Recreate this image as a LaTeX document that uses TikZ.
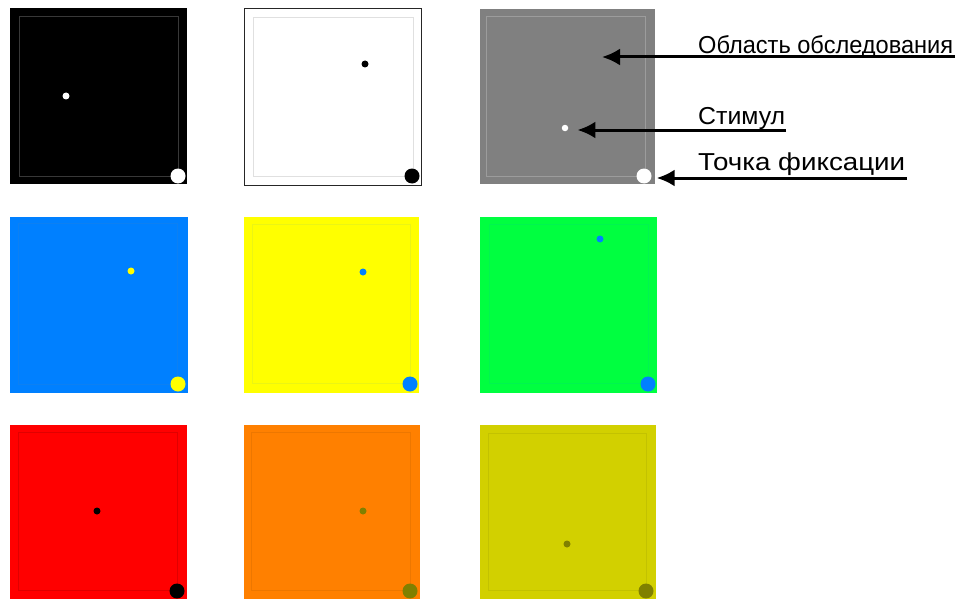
\documentclass[tikz,border=0pt]{standalone}
\usepackage{fontspec}
\setmainfont{Liberation Sans}
\usetikzlibrary{arrows.meta}
\definecolor{cblue}{RGB}{0,128,255}
\definecolor{cyel}{RGB}{255,255,0}
\definecolor{cgreen}{RGB}{0,255,64}
\definecolor{cred}{RGB}{255,0,0}
\definecolor{corange}{RGB}{255,128,0}
\definecolor{colive}{RGB}{210,208,0}
\definecolor{cdot}{RGB}{128,128,0}
\definecolor{cgray}{RGB}{128,128,128}
\newcommand{\lbltext}[2]{\resizebox{#1}{\height}{#2}}
\tikzset{
  inner/.style={line width=0.8pt},
  stim/.style={circle,inner sep=0pt,minimum size=7pt,draw=none},
  fix/.style={circle,inner sep=0pt,minimum size=15pt,draw=none},
  lbl/.style={font=\fontsize{24.5}{28}\selectfont,anchor=base west,inner sep=0pt},
  pointer/.style={line width=3pt,-{Latex[length=18pt,width=17pt]}}
}
\begin{document}
\begin{tikzpicture}[x=1pt,y=-1pt]
\useasboundingbox (0,0) rectangle (973,599);
% row 1
\fill[black] (10,8) rectangle (187,184);
\draw[inner,black!78!white] (19,16) rectangle (178,176);
\node[stim,fill=white] (s1) at (66,96) {};
\node[fix,fill=white] (f1) at (178,176) {};

\fill[white] (244,9) rectangle (421,185);
\draw[line width=1pt,black!85!white] (244,9) rectangle (421,185);
\draw[inner,black!12!white] (253,17) rectangle (413,176);
\node[stim,fill=black] (s2) at (365,64) {};
\node[fix,fill=black] (f2) at (412,176) {};

\fill[cgray] (480,9) rectangle (655,184);
\draw[inner,white!22!cgray] (486,16) rectangle (645,176);
\node[stim,fill=white,minimum size=6.5pt] (s3) at (565,128) {};
\node[fix,fill=white] (f3) at (644,176) {};

% row 2
\fill[cblue] (10,217) rectangle (188,393);
\draw[inner,cblue!90!gray] (18,223) rectangle (177,384);
\node[stim,fill=cyel] (s4) at (131,271) {};
\node[fix,fill=cyel] (f4) at (178,384) {};

\fill[cyel] (244,217) rectangle (419,393);
\draw[inner,cyel!92!cblue] (252,224) rectangle (410,383);
\node[stim,fill=cblue] (s5) at (363,272) {};
\node[fix,fill=cblue] (f5) at (410,384) {};

\fill[cgreen] (480,217) rectangle (657,393);
\draw[inner,cgreen!92!cblue] (489,224) rectangle (648,383);
\node[stim,fill=cblue] (s6) at (600,239) {};
\node[fix,fill=cblue] (f6) at (648,384) {};

% row 3
\fill[cred] (10,425) rectangle (187,599);
\draw[inner,cred!88!black] (18,432) rectangle (177,590);
\node[stim,fill=black] (s7) at (97,511) {};
\node[fix,fill=black] (f7) at (177,591) {};

\fill[corange] (244,425) rectangle (420,599);
\draw[inner,corange!93!black] (251,432) rectangle (410,590);
\node[stim,fill=cdot] (s8) at (363,511) {};
\node[fix,fill=cdot] (f8) at (410,591) {};

\fill[colive] (480,425) rectangle (656,599);
\draw[inner,colive!93!black] (488,433) rectangle (646,590);
\node[stim,fill=cdot] (s9) at (567,544) {};
\node[fix,fill=cdot] (f9) at (646,591) {};

% labels and pointers
\node[lbl] (l1) at (698,54) {\lbltext{255pt}{Область обследования}};
\node[lbl] (l2) at (698,124) {\lbltext{87pt}{Стимул}};
\node[lbl] (l3) at (698,170) {\lbltext{207pt}{Точка фиксации}};
\coordinate (a1s) at (955,57);
\coordinate (a1e) at (602,57);
\coordinate (a2s) at (786,130);
\coordinate (a3s) at (907,178);
\draw[pointer] (a1s) -- (a1e);
\draw[pointer] (a2s) -- ([xshift=9pt]s3.east |- a2s);
\draw[pointer] (a3s) -- ([xshift=5pt]f3.east |- a3s);
\end{tikzpicture}
\end{document}
